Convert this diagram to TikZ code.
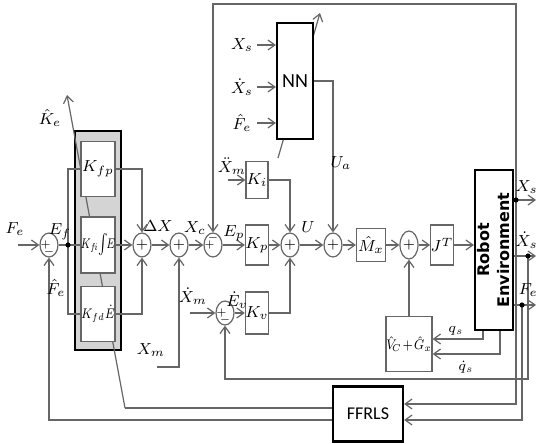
\documentclass[tikz,border=0pt]{standalone}
\usepackage{fontspec}
\setsansfont{Carlito}
\newfontfamily\robotfont{DejaVu Sans}
\usetikzlibrary{shapes.geometric,arrows.meta,positioning}
\begin{document}
\begin{tikzpicture}[
  x=0.5pt, y=-0.5pt,
  line/.style={draw=black!60, line width=0.6pt},
  arr/.style={line, -{Straight Barb[length=3.5pt,width=5pt]}},
  blk/.style={draw=black!60, line width=0.6pt, fill=white, inner sep=0pt, font=\footnotesize},
  bigblk/.style={draw=black, line width=1.1pt, fill=white, inner sep=0pt, font=\sffamily},
  sum/.style={ellipse, draw=black!60, line width=0.6pt, fill=white, minimum width=9pt, minimum height=12pt, inner sep=0pt, font=\scriptsize},
  sgn/.style={inner sep=0pt, font=\tiny},
  lbl/.style={inner sep=0pt, font=\footnotesize},
  btxt/.style={inner sep=0pt, font=\scriptsize},
  dot/.style={circle, fill=black, inner sep=0pt, minimum size=2.6pt}
]
\useasboundingbox (0,0) rectangle (538,444);

\draw[draw=black, line width=1.2pt, fill=black!17] (75,131) rectangle (121,350);
\coordinate (kebend) at (125,408);
\coordinate (ketip) at (67,95);
\draw[arr] (kebend) -- (ketip);

\node[blk, minimum width=17pt, minimum height=27.5pt] (kfp) at (98,169) {$K_{fp}$};
\node[blk, minimum width=17pt, minimum height=28pt] (kfi) at (98,245) {};
\node[blk, minimum width=17pt, minimum height=27.5pt] (kfd) at (98,314) {};
\node[btxt] (kfitxt) at (kfi) {\scalebox{0.72}[1]{$K_{f\!i}\!\int\!\!E$}};
\node[btxt] (kfdtxt) at (kfd) {\scalebox{0.8}[1]{$K_{fd}\dot{E}$}};

\node[sum] (s1) at (49,245) {};
\node[sum] (s2) at (142,245) {$+$};
\node[sum] (s3) at (179,245) {$+$};
\node[sum] (s4) at (213,245) {};
\node[sum] (s5) at (290,245) {$+$};
\node[sum] (s6) at (333,245) {$+$};
\node[sum, minimum height=14pt] (s7) at (409,245) {$+$};
\node[sum] (sv) at (225,313) {};
\node[sgn, xshift=-1.8pt] (s1p) at (s1) {$+$};
\node[sgn, yshift=-3.6pt] (s1m) at (s1) {$-$};
\node[sgn, xshift=-1.8pt] (s4p) at (s4) {$+$};
\node[sgn, yshift=3.4pt] (s4m) at (s4) {$-$};
\node[sgn, xshift=-1.8pt] (svp) at (sv) {$+$};
\node[sgn, yshift=-3.6pt] (svm) at (sv) {$-$};

\node[blk, minimum width=10.5pt, minimum height=20pt] (kp) at (257,245) {$K_p$};
\node[blk, minimum width=11pt, minimum height=18.5pt] (ki) at (257,180) {$K_i$};
\node[blk, minimum width=10.5pt, minimum height=21pt] (kv) at (257,313) {$K_v$};

\coordinate (nnfoot) at (278,158);
\coordinate (nntip) at (320,13);
\draw[arr] (nnfoot) -- (nntip);
\node[bigblk, minimum width=18pt, minimum height=58pt] (nn) at (295,81) {NN};

\node[blk, minimum width=14.5pt, minimum height=16.5pt] (mx) at (371,245) {$\hat{M}_x$};
\node[blk, minimum width=8.5pt, minimum height=20pt] (jt) at (442,245) {$J^T$};
\node[bigblk, minimum width=19pt, minimum height=80pt] (robot) at (494,250) {};
\node[rotate=90, align=center, inner sep=0pt, font=\robotfont\bfseries\fontsize{8}{10}\selectfont] (robottxt) at (robot.center) {Robot\\Environment};
\node[blk, minimum width=23pt, minimum height=27.5pt] (vg) at (409,344) {};
\node[btxt] (vgtxt) at (vg) {\scalebox{0.85}[1]{$\hat{V}_{\!C}\!+\!\hat{G}_x$}};
\node[bigblk, minimum width=35pt, minimum height=27.5pt, font=\sffamily\small] (ffrls) at (368,414) {FFRLS};

\coordinate (fein) at (18,245);
\coordinate (jn) at (68,245);
\draw[arr] (fein) -- (s1);
\draw[line] (s1) -- (jn) -- (kfi.west);
\draw[line] (jn) |- (kfp.west);
\draw[line] (jn) |- (kfd.west);
\node[dot] (jndot) at (jn) {};
\draw[arr] (kfp.east) -| (s2.north);
\draw[arr] (kfi) -- (s2);
\draw[arr] (kfd.east) -| (s2.south);
\draw[arr] (s2) -- (s3);
\draw[arr] (s3) -- (s4);
\draw[arr] (s4) -- (kp);
\draw[arr] (kp) -- (s5);
\draw[arr] (s5) -- (s6);
\draw[arr] (s6) -- (mx);
\draw[arr] (mx) -- (s7);
\draw[arr] (s7) -- (jt);
\draw[arr] (jt.east) -- (jt.east -| robot.west);
\draw[arr] (vg) -- (s7);

\coordinate (xmdd) at (228,180);
\coordinate (xmd) at (190,313);
\coordinate (xm) at (157,367);
\draw[arr] (xmdd) -- (ki);
\draw[arr] (ki.east) -| (s5.north);
\draw[arr] (xmd) -- (sv);
\draw[arr] (sv) -- (kv);
\draw[arr] (kv.east) -| (s5.south);
\draw[arr] (xm) -| (s3.south);

\coordinate (nnin1) at (257,45);
\coordinate (nnin2) at (257,87);
\coordinate (nnin3) at (257,123);
\draw[arr] (nnin1) -- (nnin1 -| nn.west);
\draw[arr] (nnin2) -- (nnin2 -| nn.west);
\draw[arr] (nnin3) -- (nnin3 -| nn.west);
\draw[arr] (nn.east) -| (s6.north);

\coordinate (xsdot) at (516,200);
\coordinate (xddot) at (528,256);
\coordinate (fedot) at (522,305);
\coordinate (xsout) at (536,200);
\coordinate (xdout) at (536,256);
\coordinate (feout) at (536,305);
\draw[arr] (robot.east |- xsdot) -- (xsout);
\draw[arr] (robot.east |- xddot) -- (xdout);
\draw[arr] (robot.east |- fedot) -- (feout);
\draw[arr] (xsdot) -- (xsdot |- 0,4) -| (s4.north);
\draw[arr] (xsdot) |- (ffrls.east |- 0,404);
\draw[arr] (fedot) |- (ffrls.east |- 0,420);
\draw[arr] (xddot) -- (xddot |- 0,379) -| (sv.south);
\node[dot] (xsd) at (xsdot) {};
\node[dot] (xdd) at (xddot) {};
\node[dot] (fed) at (fedot) {};

\draw[arr] (robot.south -| 483,0) |- (vg.east |- 0,339);
\draw[arr] (robot.south -| 500,0) |- (vg.east |- 0,354);

\draw[line] (ffrls.west |- 0,408) -- (kebend);
\draw[arr] (ffrls.west |- 0,420) -| (s1.south);

\node[lbl] (lfe) at (15,229) {$F_e$};
\node[lbl] (lef) at (60,232) {$E_f$};
\node[lbl] (lke) at (50,118) {$\hat{K}_e$};
\node[lbl] (lfh) at (56,288) {$\hat{F}_e$};
\node[lbl] (ldx) at (158,226) {$\Delta X$};
\node[lbl] (lxc) at (195,228) {$X_c$};
\node[lbl] (lep) at (234,233) {$E_p$};
\node[lbl] (lu) at (308,227) {$U$};
\node[lbl] (lev) at (237,300) {$\dot{E}_v$};
\node[lbl] (lxmd) at (193,296) {$\dot{X}_m$};
\node[lbl] (lxm) at (151,350) {$X_m$};
\node[lbl] (lxmdd) at (232,166) {$\ddot{X}_m$};
\node[lbl] (lua) at (341,163) {$U_a$};
\node[lbl] (lnn1) at (242,45) {$X_s$};
\node[lbl] (lnn2) at (242,87) {$\dot{X}_s$};
\node[lbl] (lnn3) at (242,123) {$\hat{F}_e$};
\node[lbl, font=\scriptsize] (lqs) at (456,331) {$q_s$};
\node[lbl, font=\scriptsize] (lqd) at (466,367) {$\dot{q}_s$};
\node[lbl, anchor=east] (lxs) at (538,187) {$X_s$};
\node[lbl, anchor=east] (lxd) at (538,240) {$\dot{X}_s$};
\node[lbl, anchor=east] (lfo) at (538,290) {$F_e$};
\end{tikzpicture}
\end{document}
